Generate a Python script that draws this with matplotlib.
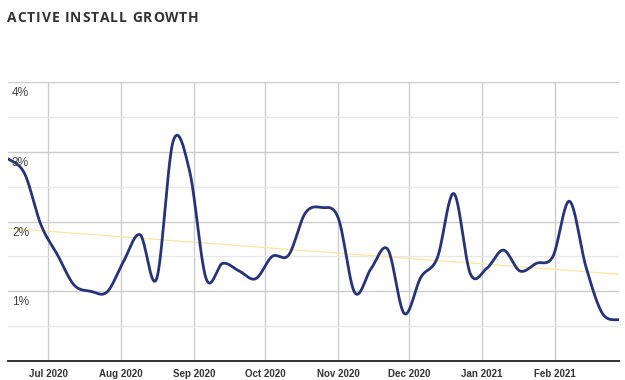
import numpy as np
import pandas as pd
import matplotlib
matplotlib.use("Agg")
import matplotlib.pyplot as plt
import matplotlib.dates as mdates

# weekly active install growth (%), Jun 14 2020 .. Feb 28 2021
week_start = pd.date_range("2020-06-14", periods=38, freq="7D")
growth = [2.90, 2.69, 1.95, 1.52, 1.09, 1.00, 0.99, 1.43, 1.81, 1.18,
          3.15, 2.72, 1.18, 1.40, 1.29, 1.18, 1.50, 1.52, 2.12, 2.20,
          2.05, 0.98, 1.33, 1.60, 0.68, 1.20, 1.48, 2.40, 1.25, 1.33,
          1.59, 1.29, 1.40, 1.50, 2.29, 1.35, 0.68, 0.59]
y_labels = [1, 2, 3, 4]
title = "ACTIVE INSTALL GROWTH"


def smooth_curve(x, y, n=24):
    # catmull-rom through the points, drawn as cubic bezier pieces
    x = np.asarray(x, float)
    y = np.asarray(y, float)
    px = np.concatenate([[x[0]], x, [x[-1]]])
    py = np.concatenate([[y[0]], y, [y[-1]]])
    t = np.linspace(0, 1, n, endpoint=False)[:, None]
    out_x, out_y = [], []
    for i in range(len(x) - 1):
        p0 = np.array([px[i], py[i]])
        p1 = np.array([px[i + 1], py[i + 1]])
        p2 = np.array([px[i + 2], py[i + 2]])
        p3 = np.array([px[i + 3], py[i + 3]])
        c1 = p1 + (p2 - p0) / 6
        c2 = p2 - (p3 - p1) / 6
        pts = ((1 - t) ** 3 * p1 + 3 * (1 - t) ** 2 * t * c1
               + 3 * (1 - t) * t ** 2 * c2 + t ** 3 * p2)
        out_x.extend(pts[:, 0])
        out_y.extend(pts[:, 1])
    out_x.append(x[-1])
    out_y.append(y[-1])
    return np.array(out_x), np.array(out_y)


xnum = mdates.date2num(week_start)
cx, cy = smooth_curve(xnum, growth)

# linear trend line (least squares)
slope, icpt = np.polyfit(xnum, growth, 1)

fig = plt.figure(figsize=(6.25, 3.8), dpi=100)
ax = fig.add_axes([8 / 625, 19 / 380, 611 / 625, 279 / 380])

ax.set_xlim(xnum[0], xnum[-1])
ax.set_ylim(0, 4)

ax.plot(xnum, slope * xnum + icpt, color="#ffe4a0", lw=0.9, zorder=2)
ax.plot(cx, cy, color="#26337a", lw=2.0, zorder=3, solid_capstyle="round")

# grid
ax.set_yticks([0, 1, 2, 3, 4])
ax.set_yticks([0.5, 1.5, 2.5, 3.5], minor=True)
ax.grid(True, which="major", axis="both", color="#cccccc", lw=1.0, zorder=0)
ax.grid(True, which="minor", axis="y", color="#e8e8e8", lw=1.0, zorder=0)
ax.set_axisbelow(True)
ax.tick_params(axis="y", which="both", length=0, labelleft=False)

ax.xaxis.set_major_locator(mdates.MonthLocator())
ax.xaxis.set_major_formatter(mdates.DateFormatter("%b %Y"))
ax.tick_params(axis="x", length=0, pad=6, labelsize=7, labelcolor="#333333")
for lab in ax.get_xticklabels():
    lab.set_fontfamily("Liberation Sans")
    lab.set_fontweight("bold")

for s in ["left", "right", "top"]:
    ax.spines[s].set_visible(False)
ax.spines["bottom"].set_color("#333333")
ax.spines["bottom"].set_linewidth(1.4)

for v in y_labels:
    ax.annotate(f"{v}%", xy=(0, v), xycoords=("axes fraction", "data"),
                xytext=(4, -5), textcoords="offset pixels",
                ha="left", va="top", fontsize=8.6, color="#444444",
                family="Liberation Sans", zorder=4)

# title with letter spacing, one character at a time
renderer = fig.canvas.get_renderer()
xpos = 7.0
for ch in title:
    t = fig.text(xpos / 625, 1 - 18 / 380, ch, fontsize=10,
                 fontweight="bold", family="Open Sans", color="#333333",
                 ha="left", va="center")
    if ch == " ":
        w = 3.5
    else:
        w = t.get_window_extent(renderer).width
    xpos += w + 0.9

fig.savefig("out.png", dpi=100)
